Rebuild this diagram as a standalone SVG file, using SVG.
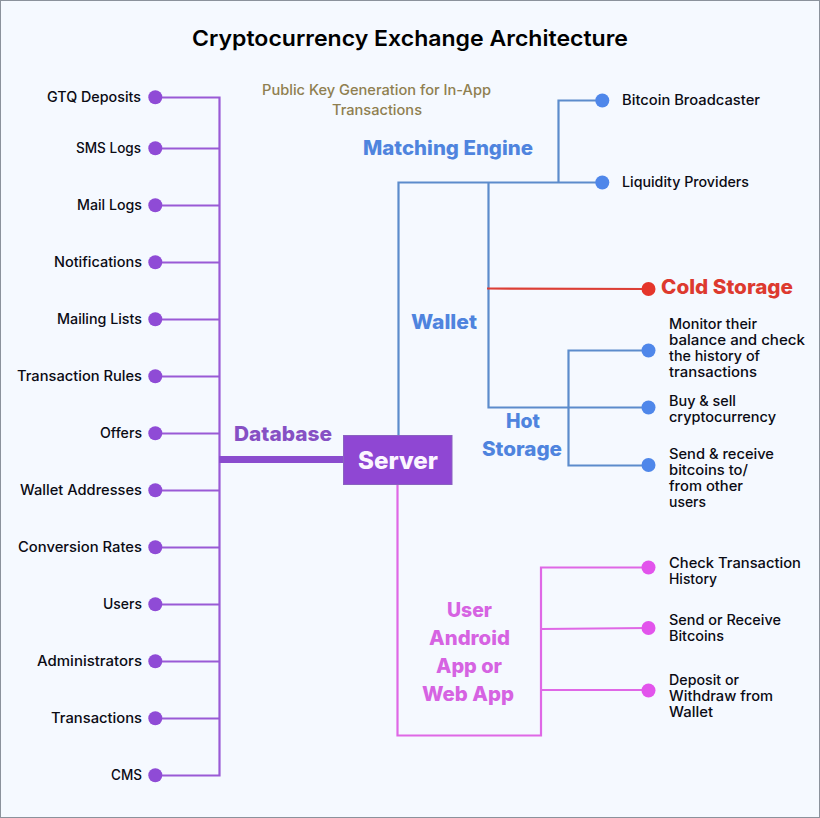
<svg xmlns="http://www.w3.org/2000/svg" width="820" height="818" viewBox="0 0 820 818">
<style>
text{font-family:"Inter","Liberation Sans",sans-serif;fill:#0b0b14}
.l{font-size:14px;font-weight:500}
.t{font-size:22px;font-weight:600;fill:#000}
.h{font-size:20px;font-weight:800}
.blue{fill:#4f84de}.pink{fill:#d663e2}.purple{fill:#8650c4}.red{fill:#dd3a2f}
.pub{font-size:14px;font-weight:500;fill:#8f7f50}
.srv{font-size:24px;font-weight:800;fill:#fbf6ff}
.c{fill:none;stroke-width:2.200}
.cp{stroke:#9a5ad6}.cb{stroke:#5c8ccc}.cr{stroke:#dc3f36}.cm{stroke:#df68e6}
.dp{fill:#8f4bd6}.db{fill:#4f87ea}.dr{fill:#e5352b}.dm{fill:#e254ec}
</style>
<rect id="background" x="0.5" y="0.5" width="819" height="817" fill="#f5f9ff" stroke="#8b929c" stroke-width="1"/>
<text id="title" class="t" x="192" y="46" textLength="436" lengthAdjust="spacingAndGlyphs">Cryptocurrency Exchange Architecture</text>
<g id="connectors">
<path class="c cp" d="M155 97.500H219.500V775.500H155M155 148.500H219.500M155 205.500H219.500M155 262.500H219.500M155 319.500H219.500M155 376.500H219.500M155 433.500H219.500M155 490.500H219.500M155 547.500H219.500M155 604.500H219.500M155 661.500H219.500M155 718.500H219.500"/>
<path d="M219 459.500H344" fill="none" stroke="#8a4cce" stroke-width="7"/>
<path class="c cb" d="M398.500 435V182.500H602M558.500 182.500V100.500H602M488.500 182.500V407.500H648M648 350.500H568.500V465.500H648"/>
<path class="c cr" d="M487 288.500L648 289"/>
<path class="c cm" d="M397.500 484V735.500H541V567.500H648M541 629L648 628M541 690H648"/>
</g>
<g id="server"><rect x="343.500" y="435.500" width="108.500" height="49" fill="#8f47d3" stroke="#8a62c0" stroke-width="1"/><text class="srv" x="358" y="469" textLength="80" lengthAdjust="spacingAndGlyphs">Server</text></g>
<g id="database-label"><text class="h purple" x="234" y="441" textLength="98" lengthAdjust="spacingAndGlyphs">Database</text></g>
<g id="public-key"><text class="pub" x="262" y="95" textLength="229" lengthAdjust="spacingAndGlyphs">Public Key Generation for In-App</text><text class="pub" x="332" y="115" textLength="90" lengthAdjust="spacingAndGlyphs">Transactions</text></g>
<g id="gtq-deposits"><circle class="dp" cx="155.300" cy="97.300" r="7"/><text class="l" x="47" y="102" textLength="94" lengthAdjust="spacingAndGlyphs">GTQ Deposits</text></g>
<g id="sms-logs"><circle class="dp" cx="155.300" cy="148.300" r="7"/><text class="l" x="76" y="153" textLength="65" lengthAdjust="spacingAndGlyphs">SMS Logs</text></g>
<g id="mail-logs"><circle class="dp" cx="155.300" cy="205.300" r="7"/><text class="l" x="77" y="210" textLength="65" lengthAdjust="spacingAndGlyphs">Mail Logs</text></g>
<g id="notifications"><circle class="dp" cx="155.300" cy="262.300" r="7"/><text class="l" x="54" y="267" textLength="88" lengthAdjust="spacingAndGlyphs">Notifications</text></g>
<g id="mailing-lists"><circle class="dp" cx="155.300" cy="319.300" r="7"/><text class="l" x="57" y="324" textLength="85" lengthAdjust="spacingAndGlyphs">Mailing Lists</text></g>
<g id="transaction-rules"><circle class="dp" cx="155.300" cy="376.300" r="7"/><text class="l" x="17" y="381" textLength="125" lengthAdjust="spacingAndGlyphs">Transaction Rules</text></g>
<g id="offers"><circle class="dp" cx="155.300" cy="433.300" r="7"/><text class="l" x="100" y="438" textLength="42" lengthAdjust="spacingAndGlyphs">Offers</text></g>
<g id="wallet-addresses"><circle class="dp" cx="155.300" cy="490.300" r="7"/><text class="l" x="20" y="495" textLength="122" lengthAdjust="spacingAndGlyphs">Wallet Addresses</text></g>
<g id="conversion-rates"><circle class="dp" cx="155.300" cy="547.300" r="7"/><text class="l" x="18" y="552" textLength="124" lengthAdjust="spacingAndGlyphs">Conversion Rates</text></g>
<g id="users"><circle class="dp" cx="155.300" cy="604.300" r="7"/><text class="l" x="103" y="609" textLength="39" lengthAdjust="spacingAndGlyphs">Users</text></g>
<g id="administrators"><circle class="dp" cx="155.300" cy="661.300" r="7"/><text class="l" x="37" y="666" textLength="105" lengthAdjust="spacingAndGlyphs">Administrators</text></g>
<g id="transactions"><circle class="dp" cx="155.300" cy="718.300" r="7"/><text class="l" x="51" y="723" textLength="91" lengthAdjust="spacingAndGlyphs">Transactions</text></g>
<g id="cms"><circle class="dp" cx="155.300" cy="775.300" r="7"/><text class="l" x="111" y="780" textLength="31" lengthAdjust="spacingAndGlyphs">CMS</text></g>
<g id="matching-engine"><text class="h blue" x="363" y="155" textLength="170" lengthAdjust="spacingAndGlyphs">Matching Engine</text></g>
<g id="wallet"><text class="h blue" x="411" y="329" textLength="66" lengthAdjust="spacingAndGlyphs">Wallet</text></g>
<g id="hot-storage"><text class="h blue" x="506" y="428" textLength="34" lengthAdjust="spacingAndGlyphs">Hot</text><text class="h blue" x="482" y="456" textLength="80" lengthAdjust="spacingAndGlyphs">Storage</text></g>
<g id="user-app"><text class="h pink" x="447" y="617" textLength="45" lengthAdjust="spacingAndGlyphs">User</text><text class="h pink" x="429" y="645" textLength="81" lengthAdjust="spacingAndGlyphs">Android</text><text class="h pink" x="436" y="673" textLength="66" lengthAdjust="spacingAndGlyphs">App or</text><text class="h pink" x="422" y="701" textLength="92" lengthAdjust="spacingAndGlyphs">Web App</text></g>
<g id="bitcoin-broadcaster"><circle class="db" cx="602.300" cy="100.500" r="7"/><text class="l" x="622" y="105" textLength="138" lengthAdjust="spacingAndGlyphs">Bitcoin Broadcaster</text></g>
<g id="liquidity-providers"><circle class="db" cx="602.300" cy="182.500" r="7"/><text class="l" x="622" y="187" textLength="127" lengthAdjust="spacingAndGlyphs">Liquidity Providers</text></g>
<g id="cold-storage"><circle class="dr" cx="648.500" cy="289" r="7"/><text class="h red" x="661" y="294" textLength="132" lengthAdjust="spacingAndGlyphs">Cold Storage</text></g>
<g id="monitor"><circle class="db" cx="648.500" cy="350.500" r="7"/><text class="l" x="669" y="329" textLength="88" lengthAdjust="spacingAndGlyphs">Monitor their</text><text class="l" x="669" y="345" textLength="136" lengthAdjust="spacingAndGlyphs">balance and check</text><text class="l" x="669" y="361" textLength="91" lengthAdjust="spacingAndGlyphs">the history of</text><text class="l" x="669" y="377" textLength="88" lengthAdjust="spacingAndGlyphs">transactions</text></g>
<g id="buy-sell"><circle class="db" cx="648.500" cy="407.500" r="7"/><text class="l" x="669" y="406" textLength="67" lengthAdjust="spacingAndGlyphs">Buy &amp; sell</text><text class="l" x="669" y="422" textLength="107" lengthAdjust="spacingAndGlyphs">cryptocurrency</text></g>
<g id="send-receive"><circle class="db" cx="648.500" cy="465" r="7"/><text class="l" x="669" y="459" textLength="105" lengthAdjust="spacingAndGlyphs">Send &amp; receive</text><text class="l" x="669" y="475" textLength="79" lengthAdjust="spacingAndGlyphs">bitcoins to/</text><text class="l" x="669" y="491" textLength="74" lengthAdjust="spacingAndGlyphs">from other</text><text class="l" x="669" y="507" textLength="37" lengthAdjust="spacingAndGlyphs">users</text></g>
<g id="check-history"><circle class="dm" cx="648.500" cy="567.500" r="7"/><text class="l" x="669" y="568" textLength="132" lengthAdjust="spacingAndGlyphs">Check Transaction</text><text class="l" x="669" y="584" textLength="48" lengthAdjust="spacingAndGlyphs">History</text></g>
<g id="send-bitcoins"><circle class="dm" cx="648.500" cy="628" r="7"/><text class="l" x="669" y="625" textLength="112" lengthAdjust="spacingAndGlyphs">Send or Receive</text><text class="l" x="669" y="641" textLength="55" lengthAdjust="spacingAndGlyphs">Bitcoins</text></g>
<g id="deposit-withdraw"><circle class="dm" cx="648.500" cy="690.500" r="7"/><text class="l" x="669" y="685" textLength="70" lengthAdjust="spacingAndGlyphs">Deposit or</text><text class="l" x="669" y="701" textLength="104" lengthAdjust="spacingAndGlyphs">Withdraw from</text><text class="l" x="669" y="717" textLength="44" lengthAdjust="spacingAndGlyphs">Wallet</text></g>
</svg>
